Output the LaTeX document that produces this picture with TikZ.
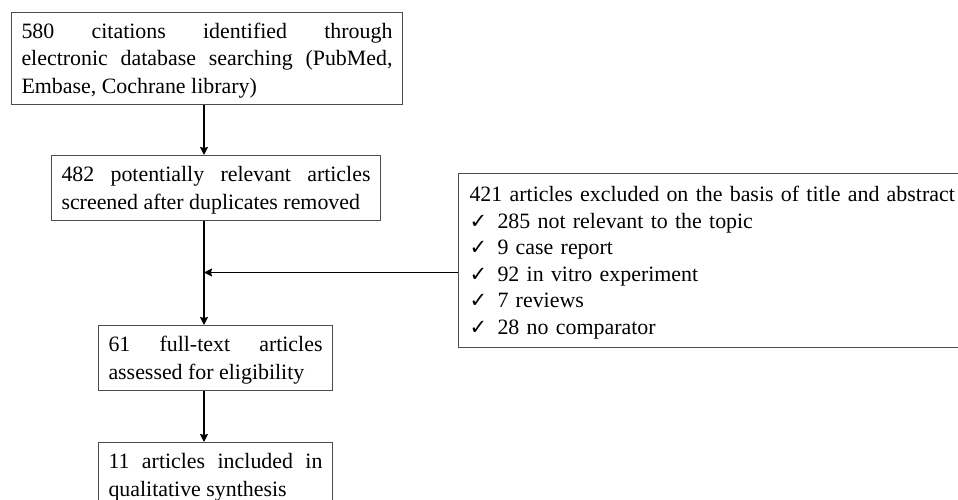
\documentclass[tikz,border=0pt]{standalone}
\usepackage{fontspec}
\setmainfont{Liberation Serif}
\newfontfamily\tickfont{DejaVu Sans}
\usetikzlibrary{arrows.meta}
\setlength{\parindent}{0pt}
\newcommand{\chk}{\makebox[28pt][l]{\fontsize{21}{21}\selectfont\tickfont ✓}}
\newcommand{\upstrut}{\rule{0pt}{21pt}}
\newcommand{\downstrut}{\rule[-6.5pt]{0pt}{0pt}}
\begin{document}
\begin{tikzpicture}[x=1pt,y=-1pt,>={Stealth[length=8pt,width=8pt,inset=1pt]},
	box/.style={draw=black!70,line width=1pt,inner xsep=10pt,inner ysep=5pt,align=justify,anchor=north west,font=\fontsize{21.9}{27.5}\selectfont},
	link/.style={->,line width=1.6pt}]
		\useasboundingbox (0,0) rectangle (958,500);
		\clip (0,0) rectangle (958,500);
		\coordinate (spine) at (204,0);
		\coordinate (join) at (204,272.5);
		\node[box,text width=371pt] (search) at (11,12) {\upstrut 580 citations identified through\linebreak electronic database searching (PubMed,\linebreak Embase, Cochrane library)\downstrut};
		\node[box,text width=309pt] (screen) at (51,155) {\upstrut 482 potentially relevant articles\linebreak screened after duplicates removed\downstrut};
		\node[box,text width=214pt] (full) at (98,325) {\upstrut 61 full-text articles\linebreak assessed for eligibility\downstrut};
		\node[box,text width=214pt] (incl) at (98,442) {\upstrut 11 articles included in\linebreak qualitative synthesis\downstrut};
		\node[box,text width=520pt,align=left,inner xsep=11pt,inner ysep=7pt,font=\fontsize{21.9}{26.5}\selectfont] (excl) at (458,173) {\upstrut 421 articles excluded on the basis of title and abstract\\
			\chk 285 not relevant to the topic\\
			\chk 9 case report\\
			\chk 92 in vitro experiment\\
			\chk 7 reviews\\
			\chk 28 no comparator\downstrut};
		\draw[link] (search.south -| spine)--(screen.north -| spine);
		\draw[link] (screen.south -| spine)--(full.north -| spine);
		\draw[link] (full.south -| spine)--(incl.north -| spine);
		\draw[link] (excl.west |- join)--(join);
\end{tikzpicture}
\end{document}
